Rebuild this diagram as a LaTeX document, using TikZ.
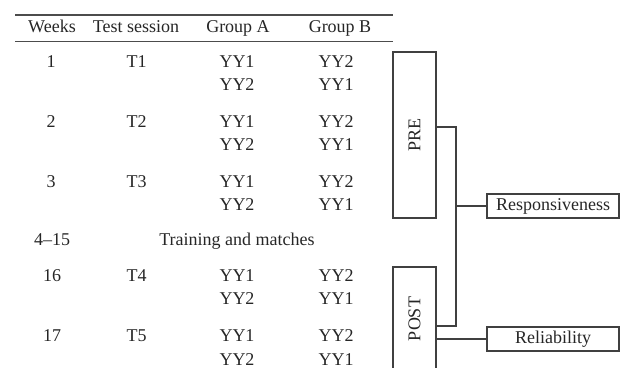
\documentclass[tikz,border=0pt]{standalone}
\usepackage{fontspec}
\setmainfont{Liberation Serif}
\usepackage{tikz}

\tikzset{
  cell/.style={inner sep=0pt, text height=6pt, text depth=0pt,
               font=\fontsize{9}{10}\selectfont, text=black!85},
  phasebox/.style={draw=black!75, line width=0.6pt, minimum width=21.5pt,
                   inner sep=0pt, font=\fontsize{9}{10}\selectfont, text=black!85},
  outcome/.style={draw=black!75, line width=0.6pt, minimum width=66pt,
                  minimum height=12pt, inner sep=0pt,
                  font=\fontsize{9}{10}\selectfont, text=black!85},
}

\begin{document}
\begin{tikzpicture}[x=0.5pt,y=-0.5pt]
\useasboundingbox (0,0) rectangle (620,368);

% table rules
\draw[line width=0.9pt,black!70] (15,15) -- (393,15);
\draw[line width=0.9pt,black!70] (15,41.5) -- (393,41.5);

\begin{scope}[every node/.style={cell}]
    \node (hweek) at (52,27)  {Weeks};
    \node (hsess) at (136,27) {Test session};
    \node (hgrpa) at (238,27) {Group A};
    \node (hgrpb) at (340,27) {Group B};

    \node (w1)  at (51,62)    {1};
    \node (t1)  at (136.5,62) {T1};
    \node (a1a) at (237,62)   {YY1};
    \node (a1b) at (237,85)   {YY2};
    \node (b1a) at (336,62)   {YY2};
    \node (b1b) at (336,85)   {YY1};

    \node (w2)  at (51,122)    {2};
    \node (t2)  at (136.5,122) {T2};
    \node (a2a) at (237,122)   {YY1};
    \node (a2b) at (237,145)   {YY2};
    \node (b2a) at (336,122)   {YY2};
    \node (b2b) at (336,145)   {YY1};

    \node (w3)  at (51,182)    {3};
    \node (t3)  at (136.5,182) {T3};
    \node (a3a) at (237,182)   {YY1};
    \node (a3b) at (237,205)   {YY2};
    \node (b3a) at (336,182)   {YY2};
    \node (b3b) at (336,205)   {YY1};

    \node (wtr) at (52,240)  {4--15};
    \node (tr)  at (237,240) {Training and matches};

    \node (w16) at (52,276)    {16};
    \node (t4)  at (136.5,276) {T4};
    \node (a4a) at (237,276)   {YY1};
    \node (a4b) at (237,299)   {YY2};
    \node (b4a) at (336,276)   {YY2};
    \node (b4b) at (336,299)   {YY1};

    \node (w17) at (52,336)    {17};
    \node (t5)  at (136.5,336) {T5};
    \node (a5a) at (237,336)   {YY1};
    \node (a5b) at (237,359)   {YY2};
    \node (b5a) at (336,336)   {YY2};
    \node (b5b) at (336,359)   {YY1};
\end{scope}

% phases and outcomes
\node[phasebox, minimum height=83pt] (pre)  at (414.5,135) {\rotatebox{90}{PRE}};
\node[phasebox, minimum height=52pt] (post) at (414.5,319) {\rotatebox{90}{POST}};
\node[outcome] (resp) at (553,206) {Responsiveness};
\node[outcome] (rel)  at (553,339) {Reliability};

\coordinate (junct) at (456,206);
\begin{scope}[line width=0.7pt, black!75]
    \draw ([yshift=4pt]pre.east) -| (junct) |- ([yshift=-3.5pt]post.east);
    \draw (junct) -- (resp);
    \draw (post.east |- rel) -- (rel);
\end{scope}
\end{tikzpicture}
\end{document}
